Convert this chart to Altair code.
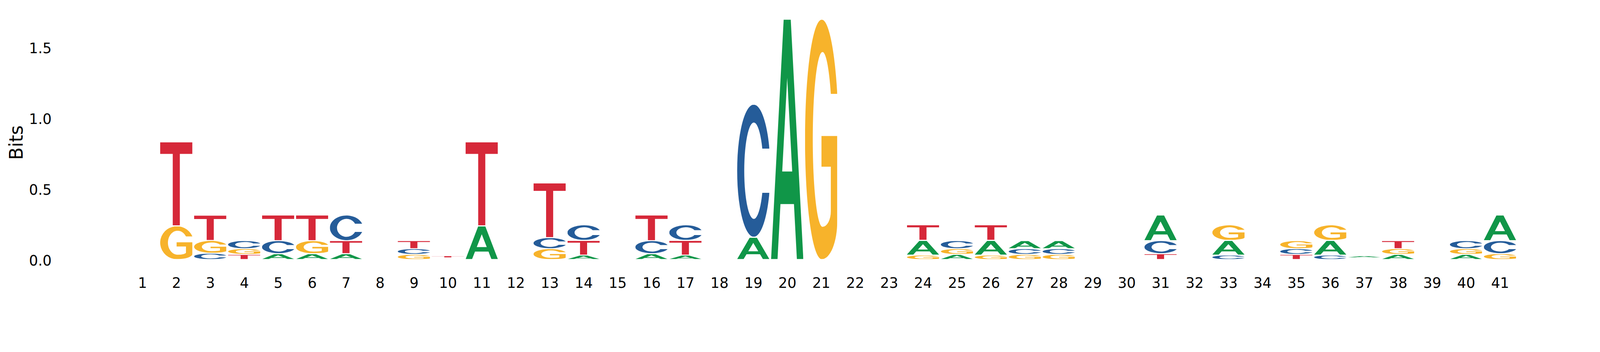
import urllib.parse
import pandas as pd
import altair as alt

# positions along the sequence
positions = list(range(1, 42))

# information (bits) carried by each base at each position
bits_A = [0, 0, 0, 0, .039, .039, .039, 0, 0, .004,
          .235, 0, 0, .029, 0, .039, .029, 0, .155, 1.69,
          0, 0, 0, .104, .034, .104, .054, .054, 0, 0,
          .177, 0, .104, 0, 0, .104, .0094, .034, 0, .034,
          .177]
bits_C = [0, 0, .042, .054, .092, 0, .177, 0, .040, .004,
          0, 0, .078, .106, 0, .092, .106, 0, .935, 0,
          0, 0, 0, 0, .054, 0, .040, .040, 0, 0,
          .092, 0, .029, 0, .040, .029, .004, 0, 0, .054,
          .092]
bits_G = [0, .235, .090, .040, 0, .092, 0, 0, .034, .004,
          0, 0, .074, 0, 0, 0, 0, 0, 0, 0,
          1.69, 0, 0, .029, .040, .029, .034, .034, 0, 0,
          0, 0, .106, 0, .054, .106, .004, .040, 0, .040,
          .039]
bits_T = [0, .59, .175, .034, .177, .177, .092, 0, .054, .0094,
          .59, 0, .383, .104, 0, .177, .104, 0, 0, 0,
          0, 0, 0, .106, 0, .106, 0, 0, 0, 0,
          .039, 0, 0, 0, .034, 0, .004, .054, 0, 0,
          0]

BITS = {"A": bits_A, "C": bits_C, "G": bits_G, "T": bits_T}
COLORS = {"A": "#109648", "C": "#255C99", "G": "#F7B32B", "T": "#D62839"}

# letter outlines in a 100x100 box, stretched to fill each glyph's cell
PATHS = {
    "A": "M0 100L39 0H61L100 100H80L70.9 77H29.1L20 100Z"
         "M50 24.3L65.5 63.4H34.5Z",
    "C": "M100 33.3A51.48 50 0 1 0 100 66.7H78A29.64 36.5 0 1 1 78 33.3Z",
    "G": "M100 31A51.95 50 0 1 0 51.95 100A48.05 16 0 0 0 100 84V48.6H51V61.4H80V80"
         "A25.8 6.5 0 0 1 54.2 86.5A30.2 36.5 0 1 1 80 31Z",
    "T": "M0 0H100V14H61V100H39V14H0Z",
}


def glyph_url(letter):
    svg = (
        "<svg xmlns='http://www.w3.org/2000/svg' viewBox='0 0 100 100' "
        "preserveAspectRatio='none'>"
        f"<path fill='{COLORS[letter]}' fill-rule='evenodd' d='{PATHS[letter]}'/>"
        "</svg>"
    )
    return "data:image/svg+xml;charset=utf-8," + urllib.parse.quote(svg)


URLS = {k: glyph_url(k) for k in BITS}

# stack letters small-to-big, leaving a thin gap between neighbours
rows = []
for i, pos in enumerate(positions):
    stack = sorted((BITS[k][i], k) for k in BITS if BITS[k][i] > 0)
    floor = 0.0
    for j, (v, k) in enumerate(stack):
        ceil = floor + v
        pad = min(0.003, 0.1 * v)
        lo = floor + (pad if j > 0 else 0)
        hi = ceil - (pad if j < len(stack) - 1 else 0)
        if hi - lo >= 0.004:
            rows.append({
                "pos": pos, "letter": k,
                "x0": pos - 0.475, "x1": pos + 0.475,
                "y0": lo, "y1": hi, "url": URLS[k],
            })
        floor = ceil

df = pd.DataFrame(rows)

FONT = "DejaVu Sans"

chart = (
    alt.Chart(df)
    .mark_image(aspect=False)
    .encode(
        x=alt.X(
            "x0:Q",
            scale=alt.Scale(domain=[-1.5, 43.5], nice=False, zero=False),
            axis=alt.Axis(
                values=positions, format="d", title=None,
                domain=False, ticks=False, tickSize=0, grid=False,
                labelFont=FONT, labelFontSize=40, labelColor="black",
                labelPadding=48, labelFlush=False, labelOverlap=False,
            ),
        ),
        x2="x1:Q",
        y=alt.Y(
            "y0:Q",
            scale=alt.Scale(domain=[0, 1.70], nice=False),
            axis=alt.Axis(
                values=[0, 0.5, 1.0, 1.5], format=".1f", title="Bits",
                domain=False, ticks=False, tickSize=0, grid=False,
                labelFont=FONT, labelFontSize=40, labelColor="black",
                labelPadding=17, labelOffset=6, labelFlush=False,
                titleFont=FONT, titleFontSize=52, titleFontWeight="normal",
                titleColor="black", titleAngle=270, titleBaseline="middle",
                titleAlign="center", titleX=-115, titleY=349,
            ),
        ),
        y2="y1:Q",
        url="url:N",
    )
    .properties(
        width=4297,
        height=677,
        padding={"left": 153, "top": 0, "right": 34, "bottom": 180},
        autosize=alt.AutoSizeParams(type="none"),
        background="white",
    )
    .configure_view(strokeWidth=0)
)

chart.save("out.html", embed_options={"renderer": "svg", "actions": False})
print("saved to out.html")
